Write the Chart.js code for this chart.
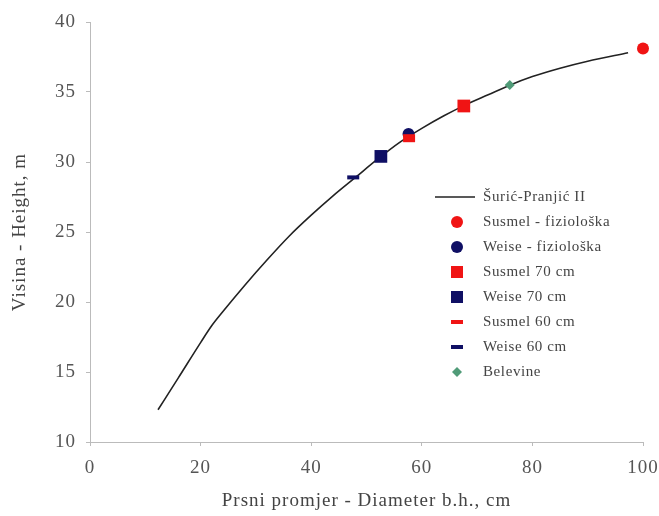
<!DOCTYPE html>
<html>
<head>
<meta charset="utf-8">
<script src="https://cdn.jsdelivr.net/npm/chart.js@4/dist/chart.umd.min.js"></script>
<style>
  body { margin: 0; background: #fff; }
  .wrap { position: relative; width: 659px; height: 516px; }
  #legend { position: absolute; left: 434px; top: 184px; font-family: "Liberation Serif", serif; font-size: 15px; letter-spacing: 0.6px; color: #444; }
  #legend .row { height: 25px; display: flex; align-items: center; }
  #legend canvas { margin-right: 7px; }
</style>
</head>
<body>
<div class="wrap">
  <canvas id="myChart" width="659" height="516"></canvas>
  <div id="legend"></div>
</div>
<script>
// Šurić-Pranjić II curve
const curveX = [12.3, 16, 20, 22, 24, 28, 32, 36, 40, 44, 48, 52, 56, 60, 64, 68, 72, 76, 80, 85, 90, 97.3];
const curveY = [12.3, 14.6, 17.1, 18.3, 19.3, 21.2, 23.0, 24.7, 26.2, 27.6, 28.9, 30.2, 31.4, 32.4, 33.3, 34.1, 34.8, 35.5, 36.1, 36.7, 37.2, 37.8];

// single points: [diameter, height]
const susmelFizio = [[100, 38.1]];
const weiseFizio = [[57.6, 32.0]];
const susmel70 = [[67.6, 34.0]];
const weise70 = [[52.6, 30.4]];
const susmel60 = [[57.7, 31.7]];
const weise60 = [[47.6, 28.9]];
const belevine = [[75.9, 35.5]];

const red = 'rgb(240, 20, 20)';
const navy = 'rgb(15, 15, 100)';
const green = 'rgb(80, 155, 120)';
const serif = '"Liberation Serif", "DejaVu Serif", serif';

function pts(arr) {
    return arr.map(p => ({ x: p[0], y: p[1] }));
}

// the original text is a bit stretched, so widen letters a little
const spacing = {
    id: 'spacing',
    beforeUpdate: chart => { chart.ctx.letterSpacing = '1px'; },
    beforeDraw: chart => { chart.ctx.letterSpacing = '1px'; }
};

const ctx = document.getElementById('myChart').getContext('2d');

const myChart = new Chart(ctx, {
    type: 'scatter',
    plugins: [spacing],
    data: {
        datasets: [
            {
                label: 'Šurić-Pranjić II',
                data: curveX.map((x, i) => ({ x: x, y: curveY[i] })),
                showLine: true,
                borderColor: '#222',
                borderWidth: 1.6,
                pointRadius: 0,
                cubicInterpolationMode: 'monotone',
                order: 10
            },
            { label: 'Susmel - fiziološka', data: pts(susmelFizio), pointStyle: 'circle', pointRadius: 6, backgroundColor: red, borderColor: red, borderWidth: 0 },
            { label: 'Weise - fiziološka', data: pts(weiseFizio), pointStyle: 'circle', pointRadius: 6, backgroundColor: navy, borderColor: navy, borderWidth: 0, order: 3 },
            { label: 'Susmel 70 cm', data: pts(susmel70), pointStyle: 'rect', pointRadius: 9, backgroundColor: red, borderColor: red, borderWidth: 0 },
            { label: 'Weise 70 cm', data: pts(weise70), pointStyle: 'rect', pointRadius: 9, backgroundColor: navy, borderColor: navy, borderWidth: 0 },
            { label: 'Susmel 60 cm', data: pts(susmel60), pointStyle: 'line', pointRadius: 6, borderColor: red, borderWidth: 8, order: 2 },
            { label: 'Weise 60 cm', data: pts(weise60), pointStyle: 'line', pointRadius: 6, borderColor: navy, borderWidth: 4 },
            { label: 'Belevine', data: pts(belevine), pointStyle: 'rectRot', pointRadius: 5, backgroundColor: green, borderColor: green, borderWidth: 0 }
        ]
    },
    options: {
        responsive: false,
        animation: false,
        clip: false,
        layout: { padding: { top: 22, right: 0, left: 0, bottom: 0 } },
        plugins: {
            legend: { display: false },
            tooltip: { enabled: false }
        },
        scales: {
            x: {
                type: 'linear',
                min: 0,
                max: 100,
                ticks: { stepSize: 20, color: '#555', padding: 11, font: { family: serif, size: 19 } },
                grid: { drawOnChartArea: false, color: '#bbb', tickLength: 4 },
                border: { color: '#bbb' },
                title: { display: true, text: 'Prsni promjer - Diameter b.h., cm', color: '#444', font: { family: serif, size: 19 }, padding: { top: 18 } },
                afterFit: s => { s.height = 74; s.paddingRight = 16; }
            },
            y: {
                min: 10,
                max: 40,
                ticks: { stepSize: 5, color: '#555', padding: 10, font: { family: serif, size: 19 } },
                grid: { drawOnChartArea: false, color: '#bbb', tickLength: 4 },
                border: { color: '#bbb' },
                title: { display: true, text: 'Visina - Height, m', color: '#444', font: { family: serif, size: 19 }, padding: { top: 9, bottom: 10 } },
                afterFit: s => { s.width = 90; }
            }
        }
    }
});

// legend drawn inside the plot, from the datasets
let legend = document.getElementById('legend');
myChart.data.datasets.forEach(ds => {
    let row = document.createElement('div');
    row.className = 'row';
    let c = document.createElement('canvas');
    c.width = 42; c.height = 20;
    let g = c.getContext('2d');
    if (ds.showLine) {
        g.strokeStyle = ds.borderColor; g.lineWidth = 1.6;
        g.beginPath(); g.moveTo(1, 10); g.lineTo(41, 10); g.stroke();
    } else {
        g.fillStyle = ds.backgroundColor || ds.borderColor;
        let st = ds.pointStyle;
        if (st === 'circle') { g.beginPath(); g.arc(23, 10, 6, 0, Math.PI * 2); g.fill(); }
        else if (st === 'rect') { g.fillRect(17, 4, 12, 12); }
        else if (st === 'line') { g.fillRect(17, 8, 12, 4); }
        else if (st === 'rectRot') { g.beginPath(); g.moveTo(23, 5); g.lineTo(28, 10); g.lineTo(23, 15); g.lineTo(18, 10); g.closePath(); g.fill(); }
    }
    row.appendChild(c);
    let t = document.createElement('span');
    t.textContent = ds.label;
    row.appendChild(t);
    legend.appendChild(row);
});
</script>
</body>
</html>
